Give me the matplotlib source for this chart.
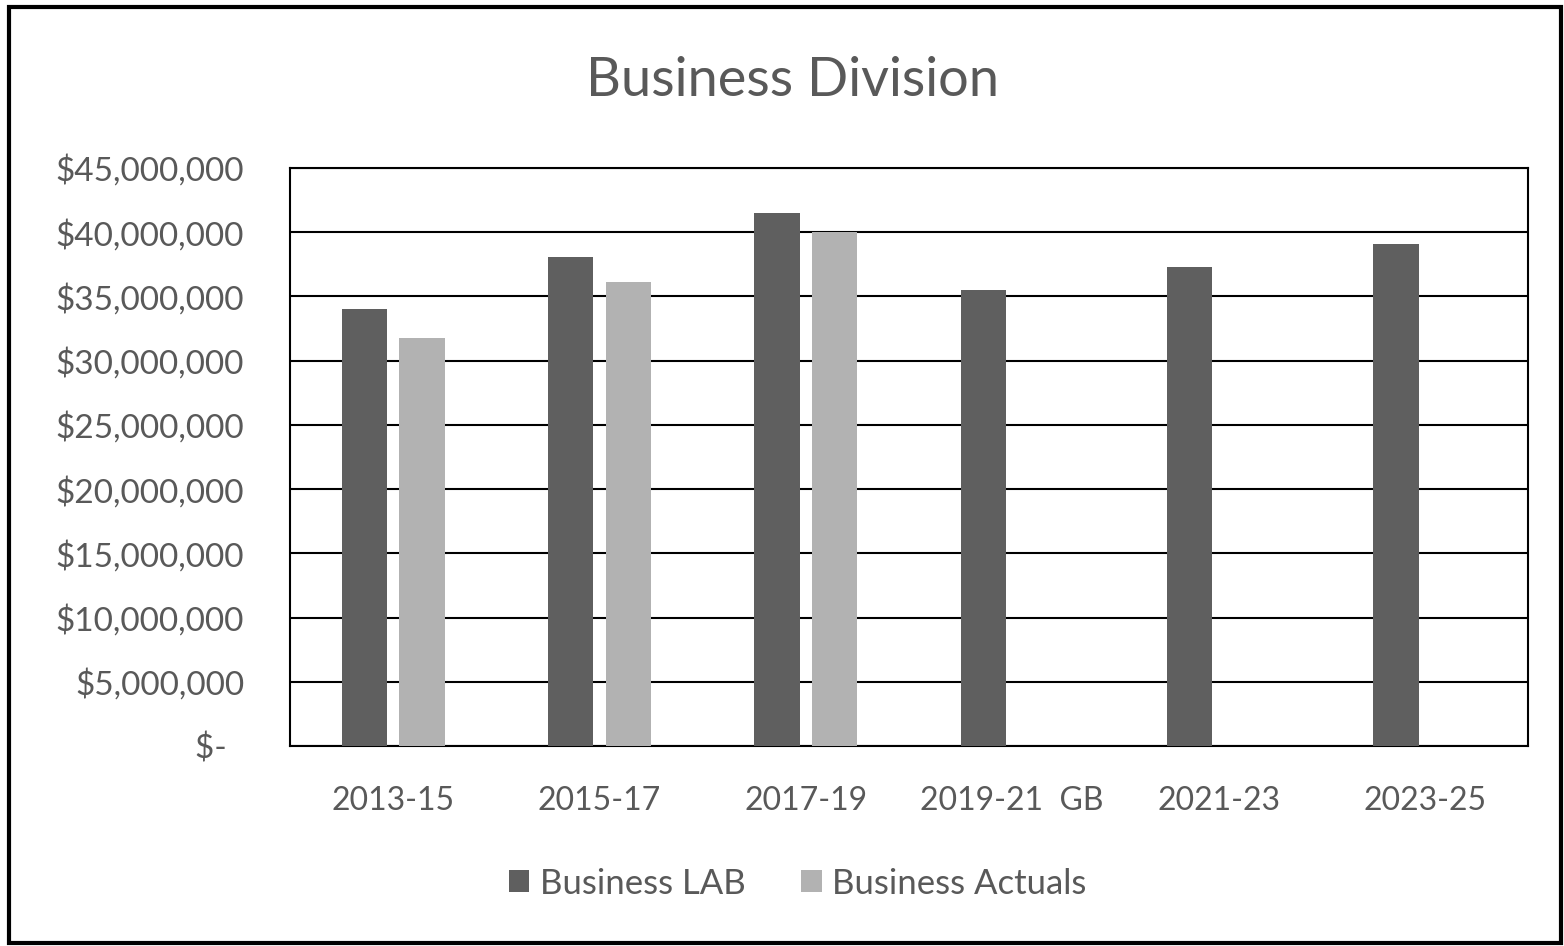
import matplotlib
matplotlib.use("Agg")
import matplotlib.pyplot as plt
import numpy as np
from matplotlib.patches import Rectangle
from matplotlib.ticker import FuncFormatter, MultipleLocator

# ── Data ────────────────────────────────────────────────────────────────
periods = ["2013-15", "2015-17", "2017-19", "2019-21  GB", "2021-23", "2023-25"]
lab_values = [34.0e6, 38.1e6, 41.5e6, 35.5e6, 37.3e6, 39.1e6]
actual_values = [31.8e6, 36.1e6, 40.0e6, np.nan, np.nan, np.nan]

LAB_COLOR = "#5f5f5f"
ACT_COLOR = "#b2b2b2"
TEXT_COLOR = "#595959"

plt.rcParams["font.family"] = ["Lato", "DejaVu Sans"]

fig = plt.figure(figsize=(15.64, 9.46), dpi=100)
ax = fig.add_axes([0.1854, 0.2114, 0.7916, 0.611])

x = np.arange(len(periods))
width = 0.22
ax.bar(x - 0.14, lab_values, width, color=LAB_COLOR, label="Business LAB", zorder=3)
ax.bar(x + 0.14, actual_values, width, color=ACT_COLOR, label="Business Actuals", zorder=3)

ax.set_xlim(-0.5, len(periods) - 0.5)
ax.set_ylim(0, 45e6)
ax.yaxis.set_major_locator(MultipleLocator(5e6))
ax.yaxis.set_major_formatter(
    FuncFormatter(lambda v, _: "$-  " if v == 0 else f"${v:,.0f}")
)
ax.set_xticks(x)
ax.set_xticklabels(periods)
ax.grid(axis="y", color="black", linewidth=1.5, zorder=1)
ax.tick_params(length=0, labelcolor=TEXT_COLOR)
ax.tick_params(axis="y", pad=33, labelsize=24)
ax.tick_params(axis="x", pad=29, labelsize=23)
for spine in ax.spines.values():
    spine.set_color("black")
    spine.set_linewidth(1.5)

fig.text(0.507, 0.915, "Business Division", ha="center", va="center",
         fontsize=39, color=TEXT_COLOR)

fig.legend(loc="center", bbox_to_anchor=(0.51, 0.066), ncol=2, frameon=False,
           fontsize=25, labelcolor=TEXT_COLOR, handlelength=0.6, handleheight=0.6,
           handletextpad=0.3, columnspacing=1.6)

# outer chart border
fig.patches.append(Rectangle((0.006, 0.003), 0.992, 0.99, transform=fig.transFigure,
                             fill=False, edgecolor="black", linewidth=3))

fig.savefig("out.png", dpi=100)
